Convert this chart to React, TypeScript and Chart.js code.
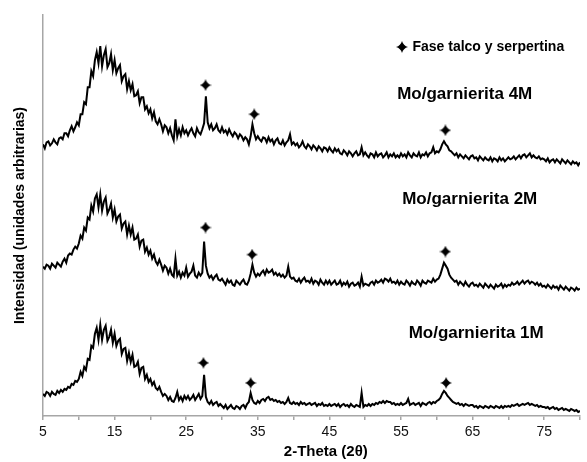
import { useEffect, useRef } from "react";
import { Chart, registerables } from "chart.js";

Chart.register(...registerables);

// 2-theta grid of the diffractogram
const THETA_START = 5;
const THETA_STEP = 0.25;
const X_TICK_LABELS = ["5", "15", "25", "35", "45", "55", "65", "75"];

// Intensity (arbitrary units, traces stacked as in the figure), 5°..80° every 0.25°
const SERIES_4M = [
  271, 267, 273, 274, 270, 272, 276, 273, 271, 277, 278, 276, 282, 282, 279, 285, 289, 284, 288, 293,
  290, 301, 301, 313, 311, 328, 328, 344, 339, 355, 363, 352, 369, 349, 360, 366, 348, 352, 361, 345,
  355, 342, 347, 350, 334, 339, 341, 326, 334, 325, 331, 319, 320, 324, 312, 318, 318, 306, 309, 302,
  306, 297, 303, 294, 291, 296, 291, 284, 290, 288, 282, 287, 280, 275, 296, 279, 286, 280, 288, 282,
  285, 280, 284, 287, 282, 279, 287, 283, 281, 286, 292, 319, 293, 287, 291, 285, 287, 291, 285, 283,
  288, 283, 285, 281, 286, 282, 279, 283, 281, 277, 281, 279, 275, 278, 276, 271, 279, 291, 282, 276,
  279, 276, 274, 278, 277, 273, 278, 274, 276, 271, 275, 277, 272, 271, 275, 270, 273, 275, 281, 271,
  273, 270, 272, 268, 270, 274, 269, 267, 271, 269, 266, 270, 268, 265, 269, 267, 264, 268, 267, 264,
  268, 265, 263, 267, 264, 266, 262, 261, 265, 263, 260, 264, 262, 259, 262, 264, 260, 261, 268, 260,
  263, 260, 258, 262, 261, 258, 263, 259, 261, 262, 258, 260, 263, 258, 261, 259, 262, 258, 260, 258,
  262, 259, 261, 258, 263, 260, 258, 262, 260, 259, 263, 258, 261, 260, 263, 259, 262, 263, 268, 262,
  264, 263, 266, 271, 274, 271, 269, 265, 264, 262, 260, 262, 258, 261, 259, 257, 260, 258, 256, 259,
  260, 257, 258, 255, 259, 257, 255, 258, 256, 255, 258, 254, 257, 256, 254, 258, 255, 257, 254, 256,
  258, 256, 257, 259, 256, 258, 260, 257, 260, 261, 258, 260, 262, 258, 260, 258, 257, 259, 256, 257,
  256, 254, 257, 253, 255, 256, 253, 256, 254, 252, 256, 254, 252, 255, 253, 251, 254, 252, 253, 250,
  253,
];

const SERIES_2M = [
  149, 147, 151, 150, 147, 152, 150, 148, 153, 151, 149, 154, 157, 153, 160, 162, 161, 166, 169, 167,
  172, 180, 177, 188, 185, 198, 196, 210, 204, 217, 221, 208, 221, 205, 214, 218, 202, 206, 212, 198,
  206, 194, 199, 201, 187, 192, 194, 181, 190, 181, 188, 176, 177, 181, 169, 175, 176, 164, 168, 161,
  165, 157, 161, 154, 151, 156, 151, 145, 150, 148, 142, 147, 141, 139, 157, 140, 144, 138, 143, 140,
  148, 139, 142, 144, 150, 140, 138, 143, 140, 143, 174, 150, 142, 138, 140, 136, 139, 141, 136, 135,
  137, 134, 131, 136, 133, 135, 131, 130, 135, 133, 131, 134, 136, 132, 131, 135, 142, 151, 143, 139,
  142, 140, 143, 145, 141, 146, 143, 144, 146, 141, 143, 140, 142, 139, 141, 138, 140, 149, 139, 137,
  138, 135, 134, 137, 133, 136, 138, 134, 135, 133, 137, 132, 135, 134, 131, 136, 133, 131, 135, 132,
  135, 131, 133, 135, 131, 132, 135, 130, 133, 131, 134, 129, 132, 133, 130, 131, 133, 129, 139, 130,
  132, 131, 130, 133, 134, 131, 135, 133, 134, 136, 133, 137, 136, 134, 137, 133, 134, 132, 135, 131,
  134, 132, 131, 135, 133, 130, 134, 132, 131, 135, 133, 130, 135, 133, 132, 135, 134, 133, 137, 134,
  136, 137, 141, 147, 153, 150, 147, 141, 138, 136, 134, 135, 131, 134, 132, 130, 134, 131, 129, 132,
  133, 130, 131, 129, 132, 130, 128, 132, 130, 128, 131, 129, 127, 131, 129, 130, 132, 128, 131, 129,
  131, 130, 133, 131, 132, 134, 131, 133, 135, 132, 134, 135, 132, 134, 133, 131, 133, 130, 132, 129,
  130, 128, 131, 129, 127, 130, 128, 129, 126, 130, 128, 126, 129, 127, 125, 128, 127, 125, 128, 126,
  127,
];

const SERIES_1M = [
  22, 20, 24, 23, 20, 24, 22, 21, 25, 23, 26, 24, 27, 26, 29, 28, 32, 31, 35, 34,
  37, 44, 40, 49, 46, 57, 56, 70, 68, 82, 88, 76, 91, 76, 86, 90, 75, 79, 86, 73,
  82, 70, 75, 77, 62, 67, 68, 55, 63, 54, 61, 49, 50, 54, 42, 48, 49, 37, 41, 34,
  37, 31, 34, 28, 26, 29, 24, 20, 22, 20, 16, 19, 15, 14, 18, 24, 16, 19, 15, 20,
  17, 20, 16, 18, 21, 16, 19, 22, 17, 20, 41, 19, 14, 12, 15, 11, 13, 14, 10, 12,
  10, 8, 11, 7, 9, 11, 8, 7, 10, 9, 7, 10, 11, 8, 12, 14, 23, 16, 13, 12,
  15, 13, 16, 17, 15, 18, 19, 16, 17, 15, 16, 14, 15, 13, 14, 12, 14, 18, 13, 12,
  14, 12, 13, 11, 14, 12, 13, 11, 12, 13, 11, 12, 13, 10, 12, 11, 13, 10, 11, 10,
  12, 10, 11, 12, 10, 12, 9, 11, 12, 10, 11, 9, 12, 10, 9, 11, 10, 9, 23, 9,
  11, 10, 12, 10, 12, 11, 13, 12, 14, 13, 15, 13, 15, 14, 14, 12, 13, 11, 12, 11,
  13, 11, 12, 13, 17, 11, 12, 13, 11, 12, 13, 10, 13, 12, 11, 13, 14, 12, 14, 13,
  15, 16, 18, 22, 25, 23, 20, 18, 16, 14, 13, 12, 13, 11, 12, 10, 12, 11, 10, 11,
  11, 9, 10, 8, 10, 9, 8, 10, 9, 8, 10, 9, 8, 10, 9, 8, 10, 8, 10, 9,
  10, 9, 11, 10, 11, 12, 10, 11, 12, 11, 12, 13, 11, 12, 11, 10, 11, 9, 10, 9,
  9, 8, 9, 7, 8, 9, 7, 8, 6, 7, 8, 6, 7, 6, 5, 7, 6, 5, 6, 4,
  5,
];

// talc / serpentine phase markers (2θ, intensity)
const MARKER_THETA = [27.7, 34.5, 61.2, 27.7, 34.2, 61.2, 27.4, 34.0, 61.3];
const MARKER_INTENSITY = [330, 301, 285, 188, 161, 164, 53, 33, 33];

const SAMPLE_LABELS = ["Mo/garnierita 4M", "Mo/garnierita 2M", "Mo/garnierita 1M"];
const LEGEND_TEXT = "Fase talco y serpertina";
const X_TITLE = "2-Theta (2θ)";
const Y_TITLE = "Intensidad (unidades arbitrarias)";

// annotation anchors in data space (2θ, intensity)
const SAMPLE_LABEL_ANCHORS = [
  [63.9, 321],
  [64.6, 216],
  [65.5, 82],
];
const LEGEND_ANCHOR = [55.2, 368];
const X_TITLE_CENTER_THETA = 44.5;

const FONT = "'Liberation Sans', Arial, sans-serif";

function makeStar(size: number): HTMLCanvasElement {
  const c = document.createElement("canvas");
  c.width = size;
  c.height = size;
  const g = c.getContext("2d")!;
  const m = size / 2;
  const R = size / 2;
  const k = 1.3;
  g.fillStyle = "#000";
  g.beginPath();
  g.moveTo(m, m - R);
  g.quadraticCurveTo(m + k, m - k, m + R, m);
  g.quadraticCurveTo(m + k, m + k, m, m + R);
  g.quadraticCurveTo(m - k, m + k, m - R, m);
  g.quadraticCurveTo(m - k, m - k, m, m - R);
  g.closePath();
  g.fill();
  return c;
}

function toXY(values: number[]) {
  return values.map((v, i) => ({ x: THETA_START + i * THETA_STEP, y: v }));
}

export default function App() {
  const ref = useRef<HTMLCanvasElement | null>(null);

  useEffect(() => {
    if (!ref.current) return;
    const star = makeStar(12);

    const annotations = {
      id: "xrdAnnotations",
      afterDraw(chart: any) {
        const { ctx, scales } = chart;
        const xs = scales.x;
        const ys = scales.y;
        ctx.save();
        ctx.fillStyle = "#000";
        ctx.textBaseline = "middle";
        ctx.textAlign = "center";
        ctx.font = `bold 17px ${FONT}`;
        SAMPLE_LABELS.forEach((t, i) => {
          const [ax, ay] = SAMPLE_LABEL_ANCHORS[i];
          ctx.fillText(t, xs.getPixelForValue(ax), ys.getPixelForValue(ay));
        });
        const lx = xs.getPixelForValue(LEGEND_ANCHOR[0]);
        const ly = ys.getPixelForValue(LEGEND_ANCHOR[1]);
        ctx.drawImage(star, Math.round(lx - 6), Math.round(ly - 6));
        ctx.textAlign = "left";
        ctx.font = `bold 14px ${FONT}`;
        ctx.fillText(LEGEND_TEXT, lx + 10, ly);
        // x-axis title
        ctx.textAlign = "center";
        ctx.font = `bold 15px ${FONT}`;
        ctx.fillText(X_TITLE, xs.getPixelForValue(X_TITLE_CENTER_THETA), xs.bottom - 10);
        ctx.restore();
      },
    };

    const chart = new Chart(ref.current, {
      type: "line",
      data: {
        datasets: [
          { data: toXY(SERIES_4M), borderColor: "#000", borderWidth: 2, pointRadius: 0, fill: false },
          { data: toXY(SERIES_2M), borderColor: "#000", borderWidth: 2, pointRadius: 0, fill: false },
          { data: toXY(SERIES_1M), borderColor: "#000", borderWidth: 2, pointRadius: 0, fill: false },
          {
            type: "scatter",
            data: MARKER_THETA.map((t, i) => ({ x: t, y: MARKER_INTENSITY[i] })),
            pointStyle: star as any,
            pointRadius: 6,
            showLine: false,
          } as any,
        ],
      },
      options: {
        animation: false,
        responsive: true,
        maintainAspectRatio: false,
        layout: { padding: { top: 15, right: 5, left: 0, bottom: 0 } },
        plugins: { legend: { display: false }, tooltip: { enabled: false } },
        scales: {
          x: {
            type: "linear",
            min: 5,
            max: 80,
            afterFit: (s: any) => {
              s.height = 46;
            },
            ticks: {
              stepSize: 5,
              autoSkip: false,
              maxRotation: 0,
              padding: 4,
              color: "#111",
              font: { family: FONT, size: 14 },
              callback: (v: any) => (X_TICK_LABELS.includes(String(v)) ? String(v) : ""),
            },
            grid: {
              drawOnChartArea: false,
              drawTicks: true,
              tickLength: 4,
              color: "#a6a6a6",
              lineWidth: 1.5,
            },
            border: { display: true, color: "#a6a6a6", width: 1.5 },
            title: { display: false },
          },
          y: {
            min: 0,
            max: 400,
            afterFit: (s: any) => {
              s.width = 43;
            },
            ticks: { display: false },
            grid: { display: false, drawTicks: false },
            border: { display: true, color: "#a6a6a6", width: 1.5 },
            title: {
              display: true,
              text: Y_TITLE,
              color: "#000",
              font: { family: FONT, size: 14, weight: "bold" },
              padding: { top: 12, bottom: 0 },
            },
          },
        },
      },
      plugins: [annotations],
    } as any);

    return () => chart.destroy();
  }, []);

  return (
    <div style={{ position: "fixed", left: 0, top: 0, width: 587, height: 462, background: "#fff" }}>
      <canvas ref={ref} />
    </div>
  );
}
